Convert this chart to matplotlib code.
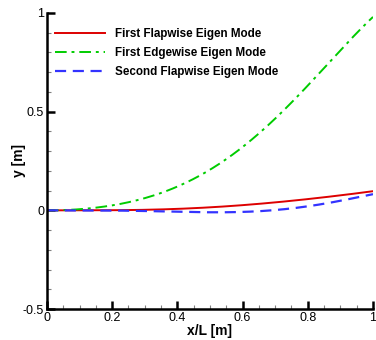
import numpy as np
import matplotlib.pyplot as plt
from matplotlib.ticker import MultipleLocator, FuncFormatter

plt.rcParams['font.family'] = ['Liberation Sans', 'DejaVu Sans']

# mode shapes
x = [0.0, 0.1, 0.2, 0.3, 0.4, 0.5, 0.6, 0.7, 0.8, 0.9, 1.0]
flap1 = [0.0, 0.0, 0.001, 0.003, 0.007, 0.015, 0.027, 0.040, 0.057, 0.076, 0.097]
edge1 = [0.0, 0.005, 0.025, 0.062, 0.125, 0.20, 0.32, 0.47, 0.63, 0.81, 0.98]
flap2 = [0.0, 0.0, -0.001, -0.004, -0.007, -0.009, -0.008, 0.0, 0.022, 0.048, 0.082]

labels = ['First Flapwise Eigen Mode', 'First Edgewise Eigen Mode', 'Second Flapwise Eigen Mode']

# smooth curves through the read points
xs = np.linspace(0, 1, 200)
def smooth(y):
    c = np.polyfit(x, y, 5)
    return np.polyval(c, xs)

fig = plt.figure(figsize=(3.76, 3.4), dpi=100)
ax = fig.add_axes([0.125, 0.091, 0.867, 0.871])

ax.plot(xs, smooth(flap1), color='#dd0000', lw=1.4, label=labels[0])
ax.plot(xs, smooth(edge1), color='#00cc00', lw=1.4, ls=(0, (6, 2.5, 1.5, 2.5)), label=labels[1])
ax.plot(xs, smooth(flap2), color='#3333ff', lw=1.6, ls=(0, (5, 3)), label=labels[2])

ax.set_xlim(0, 1)
ax.set_ylim(-0.5, 1)
ax.spines['top'].set_visible(False)
ax.spines['right'].set_visible(False)
ax.spines['left'].set_linewidth(1.8)
ax.spines['bottom'].set_linewidth(1.8)

ax.xaxis.set_major_locator(MultipleLocator(0.2))
ax.xaxis.set_minor_locator(MultipleLocator(0.05))
ax.yaxis.set_major_locator(MultipleLocator(0.5))
ax.yaxis.set_minor_locator(MultipleLocator(0.1))
fmt = FuncFormatter(lambda v, p: '%g' % round(v, 3))
ax.xaxis.set_major_formatter(fmt)
ax.yaxis.set_major_formatter(fmt)

ax.tick_params(which='major', direction='in', length=6, width=1.8, labelsize=9, pad=2)
ax.tick_params(which='minor', direction='in', length=3, width=0.8, color='gray')

ax.set_xlabel('x/L [m]', fontsize=10, fontweight='bold', labelpad=0)
ax.set_ylabel('y [m]', fontsize=10, fontweight='bold')
ax.yaxis.set_label_coords(-0.065, 0.5)

leg = ax.legend(loc='upper left', frameon=False, prop={'size': 8.4, 'weight': 'bold'},
                handlelength=4.3, handletextpad=0.8, labelspacing=0.6,
                borderaxespad=0.3, bbox_to_anchor=(0.0, 0.975))

fig.savefig('out.png', dpi=100)
